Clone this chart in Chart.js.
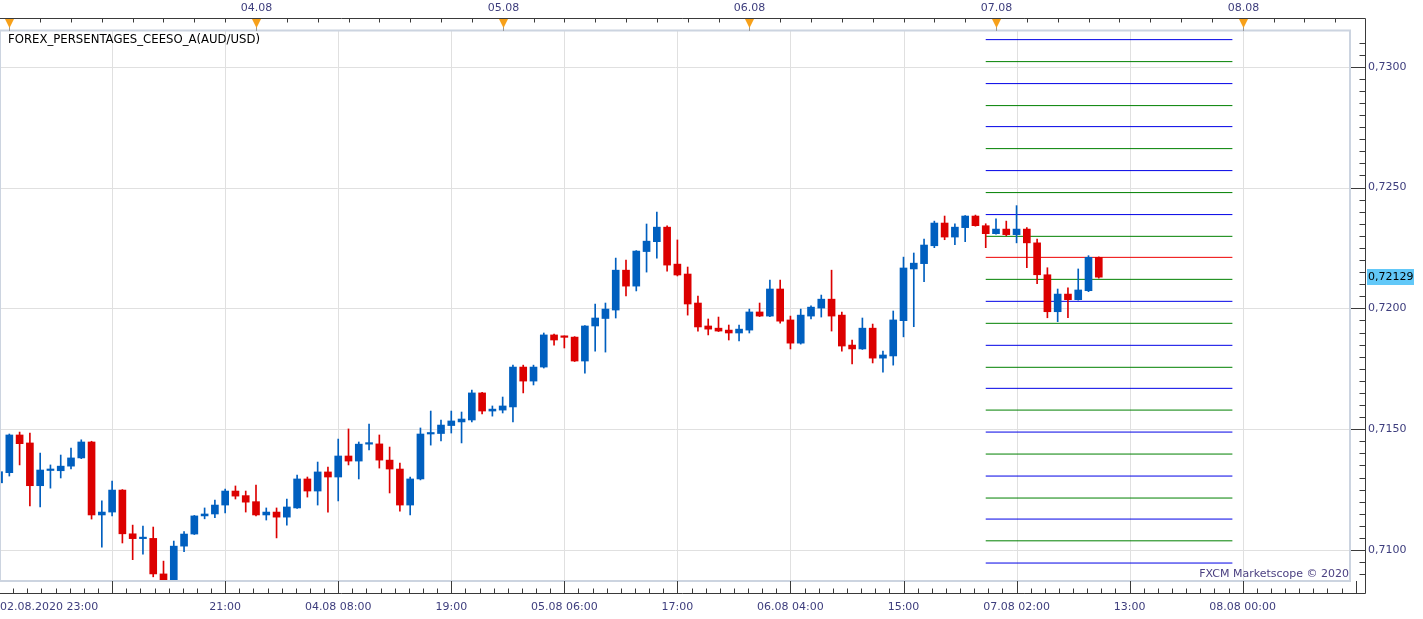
<!DOCTYPE html>
<html>
<head>
<meta charset="utf-8">
<script src="https://cdn.jsdelivr.net/npm/chart.js@4.4.1/dist/chart.umd.min.js"></script>
<style>
html, body { margin: 0; padding: 0; background: #fff; }
#wrap { position: relative; width: 1423px; height: 619px; }
</style>
</head>
<body>
<div id="wrap"><canvas id="chart"></canvas></div>
<script>
// AUD/USD hourly candles, x = hours since 03.08.2020 00:00
const FIRST_HOUR = -1;

const opens = [
    0.71278, 0.71320, 0.71476, 0.71443, 0.71266, 0.71329, 0.71328, 0.71347, 0.71381, 0.71447,
    0.71145, 0.71157, 0.71248, 0.71067, 0.71047, 0.71048, 0.70901, 0.70866, 0.71016, 0.71066,
    0.71141, 0.71149, 0.71186, 0.71244, 0.71225, 0.71200, 0.71145, 0.71157, 0.71136, 0.71174,
    0.71294, 0.71244, 0.71323, 0.71302, 0.71389, 0.71368, 0.71438, 0.71439, 0.71372, 0.71335,
    0.71186, 0.71294, 0.71480, 0.71482, 0.71515, 0.71530, 0.71538, 0.71650, 0.71575, 0.71579,
    0.71592, 0.71757, 0.71699, 0.71757, 0.71890, 0.71882, 0.71881, 0.71782, 0.71927, 0.71958,
    0.71993, 0.72158, 0.72092, 0.72235, 0.72276, 0.72336, 0.72183, 0.72142, 0.72022, 0.71927,
    0.71918, 0.71910, 0.71898, 0.71910, 0.71985, 0.71968, 0.72080, 0.71952, 0.71856, 0.71968,
    0.72001, 0.72038, 0.71972, 0.71848, 0.71832, 0.71918, 0.71794, 0.71803, 0.71949, 0.72163,
    0.72185, 0.72259, 0.72353, 0.72295, 0.72334, 0.72382, 0.72342, 0.72309, 0.72328, 0.72305,
    0.72328, 0.72271, 0.72139, 0.71986, 0.72059, 0.72036, 0.72073, 0.72211
];
const highs = [
    0.71352, 0.71480, 0.71488, 0.71484, 0.71401, 0.71352, 0.71393, 0.71422, 0.71456, 0.71450,
    0.71203, 0.71285, 0.71250, 0.71103, 0.71099, 0.71095, 0.70954, 0.71037, 0.71076, 0.71143,
    0.71174, 0.71207, 0.71252, 0.71265, 0.71244, 0.71269, 0.71174, 0.71174, 0.71211, 0.71310,
    0.71302, 0.71364, 0.71343, 0.71459, 0.71501, 0.71447, 0.71521, 0.71476, 0.71426, 0.71360,
    0.71302, 0.71505, 0.71575, 0.71538, 0.71575, 0.71571, 0.71662, 0.71652, 0.71596, 0.71633,
    0.71765, 0.71765, 0.71765, 0.71898, 0.71894, 0.71886, 0.71883, 0.71929, 0.72018, 0.72022,
    0.72208, 0.72200, 0.72239, 0.72349, 0.72398, 0.72341, 0.72283, 0.72171, 0.72051, 0.71956,
    0.71964, 0.71931, 0.71931, 0.71997, 0.72022, 0.72117, 0.72117, 0.71968, 0.71997, 0.72010,
    0.72055, 0.72158, 0.71985, 0.71869, 0.71960, 0.71935, 0.71823, 0.71989, 0.72212, 0.72229,
    0.72287, 0.72361, 0.72382, 0.72350, 0.72384, 0.72386, 0.72350, 0.72370, 0.72361, 0.72425,
    0.72334, 0.72287, 0.72168, 0.72080, 0.72085, 0.72163, 0.72218, 0.72213
];
const lows = [
    0.71269, 0.71306, 0.71352, 0.71182, 0.71178, 0.71256, 0.71298, 0.71335, 0.71378, 0.71128,
    0.71012, 0.71141, 0.71029, 0.70960, 0.70983, 0.70889, 0.70850, 0.70850, 0.70993, 0.71064,
    0.71129, 0.71134, 0.71153, 0.71211, 0.71157, 0.71141, 0.71124, 0.71050, 0.71103, 0.71172,
    0.71219, 0.71186, 0.71157, 0.71203, 0.71352, 0.71294, 0.71414, 0.71339, 0.71236, 0.71161,
    0.71145, 0.71290, 0.71434, 0.71451, 0.71484, 0.71443, 0.71530, 0.71563, 0.71554, 0.71567,
    0.71530, 0.71650, 0.71683, 0.71753, 0.71848, 0.71836, 0.71780, 0.71732, 0.71823, 0.71819,
    0.71960, 0.72051, 0.72072, 0.72150, 0.72208, 0.72154, 0.72134, 0.71972, 0.71906, 0.71890,
    0.71904, 0.71869, 0.71865, 0.71898, 0.71966, 0.71966, 0.71939, 0.71832, 0.71852, 0.71956,
    0.71964, 0.71906, 0.71823, 0.71770, 0.71830, 0.71774, 0.71736, 0.71765, 0.71882, 0.71924,
    0.72110, 0.72251, 0.72284, 0.72263, 0.72276, 0.72340, 0.72251, 0.72307, 0.72300, 0.72271,
    0.72168, 0.72102, 0.71961, 0.71945, 0.71961, 0.72034, 0.72069, 0.72125
];
const closes = [
    0.71324, 0.71476, 0.71440, 0.71266, 0.71331, 0.71330, 0.71347, 0.71381, 0.71447, 0.71145,
    0.71157, 0.71248, 0.71067, 0.71047, 0.71048, 0.70901, 0.70863, 0.71016, 0.71066, 0.71141,
    0.71149, 0.71186, 0.71244, 0.71223, 0.71198, 0.71145, 0.71157, 0.71136, 0.71178, 0.71294,
    0.71244, 0.71323, 0.71302, 0.71389, 0.71368, 0.71438, 0.71439, 0.71372, 0.71335, 0.71186,
    0.71294, 0.71480, 0.71484, 0.71517, 0.71534, 0.71542, 0.71650, 0.71575, 0.71583, 0.71596,
    0.71757, 0.71699, 0.71757, 0.71890, 0.71869, 0.71880, 0.71782, 0.71927, 0.71960, 0.71997,
    0.72158, 0.72092, 0.72237, 0.72278, 0.72336, 0.72179, 0.72138, 0.72018, 0.71923, 0.71914,
    0.71906, 0.71898, 0.71914, 0.71985, 0.71968, 0.72080, 0.71947, 0.71856, 0.71972, 0.72005,
    0.72038, 0.71968, 0.71844, 0.71832, 0.71918, 0.71794, 0.71807, 0.71952, 0.72167, 0.72187,
    0.72262, 0.72353, 0.72295, 0.72336, 0.72382, 0.72342, 0.72309, 0.72328, 0.72305, 0.72328,
    0.72271, 0.72139, 0.71986, 0.72059, 0.72036, 0.72076, 0.72211, 0.72129
];

// percentage levels for the 07.08 session (top to bottom)
const levelValues = [
    0.73112, 0.73021, 0.72930, 0.72839, 0.72752, 0.72661, 0.72570, 0.72479, 0.72388, 0.72298,
    0.72211, 0.72120, 0.72029, 0.71938, 0.71847, 0.71756, 0.71669, 0.71579, 0.71488, 0.71397,
    0.71306, 0.71215, 0.71128, 0.71038, 0.70946
];
const levelColors = [
    'blue', 'green', 'blue', 'green', 'blue', 'green', 'blue', 'green', 'blue', 'green',
    'red', 'green', 'blue', 'green', 'blue', 'green', 'blue', 'green', 'blue', 'green',
    'blue', 'green', 'blue', 'green', 'blue'
];
const levelFrom = 95;   // 06.08 23:00
const levelTo = 119;    // 07.08 23:00
const lastPrice = 0.72129;
const lastPriceLabel = '0,72129';

const xTickHours = [-1, 10, 21, 32, 43, 54, 65, 76, 87, 98, 109, 120, 131];
const xTickLabels = ['02.08.2020 23:00', '', '21:00', '04.08 08:00', '19:00', '05.08 06:00',
    '17:00', '06.08 04:00', '15:00', '07.08 02:00', '13:00', '08.08 00:00', ''];
const dayHours = [0, 24, 48, 72, 96, 120];
const dayLabels = ['', '04.08', '05.08', '06.08', '07.08', '08.08'];
const yTickValues = [0.7100, 0.7150, 0.7200, 0.7250, 0.7300];
const yTickLabels = ['0,7100', '0,7150', '0,7200', '0,7250', '0,7300'];

const UP = '#005fbf';
const DOWN = '#dc0000';
const LEVEL_COLORS = { blue: '#0000e6', green: '#008000', red: '#ee0000' };
const AXIS = '#3a3a3a';
const TEXT = '#3d3d7d';
const FONT = '11px "DejaVu Sans", Verdana, sans-serif';

const hours = opens.map((_, i) => FIRST_HOUR + i);
const candleColors = closes.map((c, i) => c >= opens[i] ? UP : DOWN);

const levelSets = levelValues.map((v, i) => ({
    type: 'line',
    data: [{ x: levelFrom, y: v }, { x: levelTo, y: v }],
    borderColor: LEVEL_COLORS[levelColors[i]],
    borderWidth: 1,
    pointRadius: 0,
    order: 3
}));

const fxcmAxes = {
    id: 'fxcmAxes',
    beforeDraw(chart) {
        const { ctx, chartArea: a, scales: { x, y } } = chart;
        ctx.save();
        ctx.fillStyle = '#fff';
        ctx.fillRect(0, 0, chart.width, chart.height);
        ctx.strokeStyle = '#e0e0e0';
        ctx.lineWidth = 1;
        ctx.beginPath();
        xTickHours.forEach(h => {
            const px = Math.round(x.getPixelForValue(h)) + 0.5;
            if (px > a.left + 2 && px < a.right - 2) {
                ctx.moveTo(px, a.top);
                ctx.lineTo(px, a.bottom);
            }
        });
        yTickValues.forEach(v => {
            const py = Math.round(y.getPixelForValue(v)) + 0.5;
            ctx.moveTo(a.left, py);
            ctx.lineTo(a.right, py);
        });
        ctx.stroke();
        ctx.restore();
    },
    afterDatasetsDraw(chart) {
        const { ctx, chartArea: a } = chart;
        ctx.save();
        ctx.strokeStyle = '#ccd4e0';
        ctx.lineWidth = 2;
        ctx.strokeRect(a.left, a.top - 0.5, a.right - a.left - 1, a.bottom - a.top + 0.5);
        ctx.restore();
    },
    afterDraw(chart) {
        const { ctx, chartArea: a, scales: { x, y } } = chart;
        const axisX = 1365.5;
        const topY = 18.5;
        const botY = 593.5;
        ctx.save();
        ctx.font = FONT;

        // axis lines
        ctx.strokeStyle = AXIS;
        ctx.lineWidth = 1;
        ctx.beginPath();
        ctx.moveTo(0, topY); ctx.lineTo(axisX, topY);
        ctx.moveTo(axisX, topY); ctx.lineTo(axisX, botY);
        ctx.moveTo(0, botY); ctx.lineTo(axisX, botY);

        // top axis: 3-hour ticks
        for (let h = 0; ; h += 3) {
            const px = Math.round(x.getPixelForValue(h)) + 0.5;
            if (px >= axisX) break;
            ctx.moveTo(px, topY); ctx.lineTo(px, topY + 4);
        }

        // bottom axis: major + minor ticks
        xTickHours.forEach(h => {
            const px = Math.round(x.getPixelForValue(h)) + 0.5;
            if (px >= 0 && px < axisX) {
                ctx.moveTo(px, a.bottom); ctx.lineTo(px, botY);
            }
            for (let k = 1; k < 8; k++) {
                const mx = Math.round(x.getPixelForValue(h + k * 11 / 8)) + 0.5;
                if (mx >= 0 && mx < axisX) {
                    ctx.moveTo(mx, botY - 5); ctx.lineTo(mx, botY);
                }
            }
        });

        // right axis: 0.0005 ticks
        const step = 0.0005;
        for (let i = Math.ceil(y.min / step); i * step <= y.max; i++) {
            const v = i * step;
            const py = Math.round(y.getPixelForValue(v)) + 0.5;
            const major = i % 10 === 0;
            ctx.moveTo(major ? a.right : axisX - 6, py);
            ctx.lineTo(axisX, py);
        }
        ctx.stroke();

        // day markers on the top axis
        dayHours.forEach((h, i) => {
            const px = Math.round(x.getPixelForValue(h)) + 0.5;
            ctx.strokeStyle = '#9a9a9a';
            ctx.beginPath();
            ctx.moveTo(px, 26); ctx.lineTo(px, 31);
            ctx.stroke();
            ctx.fillStyle = '#f7a11a';
            ctx.beginPath();
            ctx.moveTo(px - 4.5, 19);
            ctx.lineTo(px + 4.5, 19);
            ctx.lineTo(px, 28);
            ctx.closePath();
            ctx.fill();
            if (dayLabels[i]) {
                ctx.fillStyle = TEXT;
                ctx.textAlign = 'center';
                ctx.textBaseline = 'middle';
                ctx.fillText(dayLabels[i], px, 8.5);
            }
        });

        // bottom labels
        ctx.fillStyle = TEXT;
        ctx.textBaseline = 'middle';
        ctx.textAlign = 'left';
        xTickHours.forEach((h, i) => {
            const label = xTickLabels[i];
            if (!label) return;
            const w = ctx.measureText(label).width;
            const px = x.getPixelForValue(h);
            const left = Math.max(0, px - w / 2);
            ctx.fillText(label, left, 607);
        });

        // right labels
        yTickValues.forEach((v, i) => {
            ctx.fillText(yTickLabels[i], 1368, y.getPixelForValue(v));
        });

        // last price tag
        const lp = y.getPixelForValue(lastPrice);
        ctx.fillStyle = '#62c8f8';
        ctx.fillRect(1367, Math.round(lp) - 8, 47, 16);
        ctx.fillStyle = '#000';
        ctx.fillText(lastPriceLabel, 1368, lp);

        // title and watermark
        ctx.fillStyle = '#000';
        ctx.font = '11.7px "DejaVu Sans", Verdana, sans-serif';
        ctx.fillText('FOREX_PERSENTAGES_CEESO_A(AUD/USD)', 8, 39.5);
        ctx.font = FONT;
        ctx.fillStyle = '#4a3f80';
        ctx.textAlign = 'right';
        ctx.fillText('FXCM Marketscope \u00a9 2020', 1349, 574);
        ctx.restore();
    }
};

new Chart(document.getElementById('chart'), {
    type: 'bar',
    data: {
        datasets: [
            ...levelSets,
            {
                label: 'wicks',
                data: hours.map((h, i) => ({ x: h, y: [lows[i], highs[i]] })),
                backgroundColor: candleColors,
                barThickness: 1,
                grouped: false,
                order: 2
            },
            {
                label: 'bodies',
                data: hours.map((h, i) => ({ x: h, y: [opens[i], closes[i]] })),
                backgroundColor: candleColors,
                barThickness: 7,
                minBarLength: 1.5,
                grouped: false,
                order: 1
            }
        ]
    },
    options: {
        responsive: true,
        maintainAspectRatio: false,
        animation: false,
        layout: { padding: { left: 0, top: 31, right: 72, bottom: 38 } },
        plugins: {
            legend: { display: false },
            tooltip: { enabled: false }
        },
        scales: {
            x: { type: 'linear', min: -0.908, max: 130.54, offset: false, display: false },
            y: { type: 'linear', min: 0.708717, max: 0.731477, display: false }
        }
    },
    plugins: [fxcmAxes]
});
</script>
</body>
</html>
